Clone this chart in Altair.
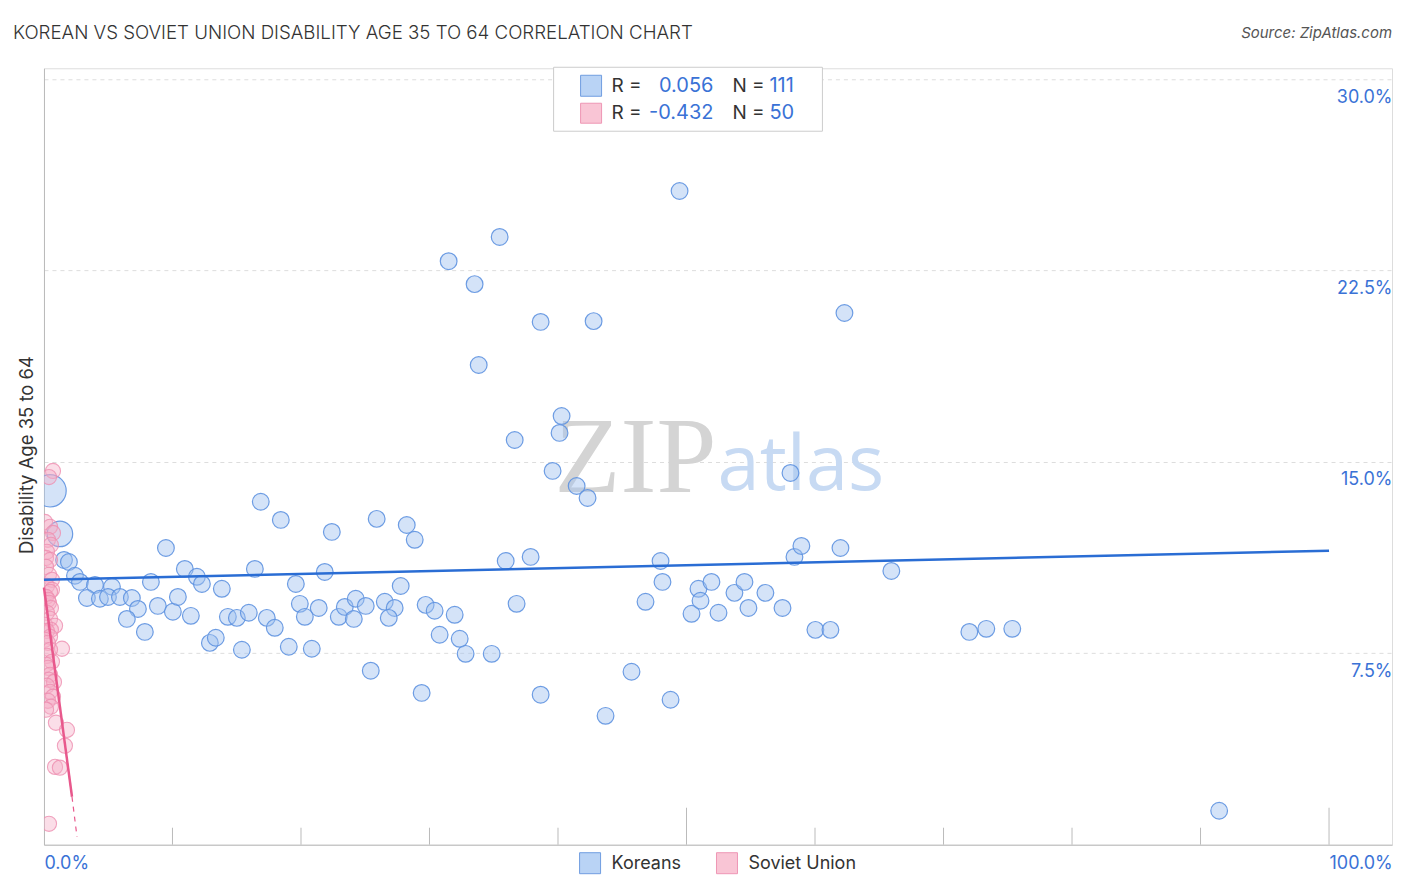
import altair as alt
import pandas as pd

# ---------------- data ----------------
korean_x = [49.46, 35.46, 31.49, 33.51, 38.65, 42.77, 62.29, 33.83, 40.28, 40.12,
            36.63, 39.58, 41.45, 42.30, 58.09, 0.47, 16.87, 18.43, 25.89, 28.23,
            22.40, 28.85, 1.24, 9.49, 1.56, 1.94, 2.41, 2.80, 3.97, 5.29,
            3.34, 4.35, 4.98, 5.91, 6.84, 7.31, 6.45, 7.85, 8.32, 8.86,
            10.03, 10.42, 10.96, 11.90, 12.29, 11.43, 13.84, 14.31, 15.01, 15.94,
            12.91, 13.37, 15.40, 17.34, 17.96, 16.41, 19.60, 19.91, 20.30, 21.38,
            22.94, 23.41, 24.11, 24.26, 25.04, 26.52, 27.29, 26.83, 27.76, 21.85,
            19.05, 20.84, 25.43, 29.39, 29.70, 30.40, 31.96, 30.79, 32.35, 32.81,
            34.84, 35.93, 37.87, 36.78, 38.65, 43.70, 45.72, 48.76, 46.81, 47.98,
            48.13, 50.39, 50.93, 51.09, 51.94, 52.49, 53.73, 54.51, 54.82, 56.14,
            57.47, 58.40, 58.94, 61.98, 60.03, 61.20, 65.94, 72.01, 73.33, 75.35,
            91.45]
korean_y = [25.62, 23.82, 22.87, 21.97, 20.49, 20.52, 20.84, 18.80, 16.80, 16.14,
            15.86, 14.65, 14.06, 13.59, 14.57, 13.87, 13.44, 12.73, 12.77, 12.53,
            12.26, 11.95, 12.18, 11.63, 11.16, 11.08, 10.54, 10.30, 10.18, 10.11,
            9.67, 9.64, 9.71, 9.71, 9.67, 9.24, 8.85, 8.34, 10.30, 9.36,
            9.13, 9.71, 10.81, 10.50, 10.22, 8.97, 10.03, 8.93, 8.89, 9.09,
            7.91, 8.11, 7.64, 8.89, 8.50, 10.81, 10.22, 9.44, 8.93, 9.28,
            8.93, 9.32, 8.85, 9.64, 9.36, 9.52, 9.28, 8.89, 10.14, 10.69,
            7.76, 7.68, 6.82, 5.95, 9.40, 9.17, 9.01, 8.23, 8.07, 7.48,
            7.48, 11.12, 11.28, 9.44, 5.88, 5.05, 6.78, 5.68, 9.52, 11.12,
            10.30, 9.05, 10.03, 9.56, 10.30, 9.09, 9.87, 10.30, 9.28, 9.87,
            9.28, 11.28, 11.71, 11.63, 8.42, 8.42, 10.73, 8.34, 8.46, 8.46,
            1.33]
# relative weight of each Korean point (1 = ordinary marker)
korean_weight = [1.0] * len(korean_x)
korean_weight[15] = 4.5
korean_weight[22] = 2.7

soviet_x = [0.70, 0.39, 0.08, 0.47, 0.70, 0.31, 0.54, 0.23, 0.16, 0.47,
            0.16, 0.39, 0.62, 0.23, 0.62, 0.47, 0.16, 0.31, 0.39, 0.54,
            0.23, 0.47, 0.08, 0.86, 0.54, 0.23, 0.47, 0.08, 0.31, 1.40,
            0.47, 0.23, 0.62, 0.16, 0.31, 0.47, 0.39, 0.78, 0.23, 0.47,
            0.70, 0.31, 0.54, 0.16, 0.93, 1.79, 1.63, 0.86, 1.24, 0.39]
soviet_y = [14.65, 14.41, 12.65, 12.46, 12.22, 11.95, 11.75, 11.48, 11.24, 11.16,
            10.89, 10.58, 10.38, 10.14, 9.99, 9.91, 9.71, 9.60, 9.48, 9.28,
            9.09, 8.85, 8.62, 8.58, 8.42, 8.38, 8.15, 8.03, 7.91, 7.68,
            7.64, 7.40, 7.17, 7.05, 6.93, 6.66, 6.46, 6.38, 6.23, 5.99,
            5.80, 5.64, 5.41, 5.29, 4.78, 4.50, 3.88, 3.05, 3.02, 0.82]

korean_trend_x = [0, 100]
korean_trend_y = [10.38, 11.52]
soviet_trend_x = [0, 2.18]
soviet_trend_y = [10.08, 1.88]
soviet_ext_x = [2.18, 2.57]
soviet_ext_y = [1.88, 0.31]

x_minor_ticks = [10, 20, 30, 40, 60, 70, 80, 90]
x_major_ticks = [50, 100]
x_label_values = [0, 100]
y_tick_values = [7.5, 15, 22.5, 30]

x_domain = [0, 104.9]
y_domain = [0, 30.43]

# ---------------- styling ----------------
W, H = 1349, 777
FONT = "Inter"
BLUE_TXT = "#3a72d6"
DARK = "#333333"
AXIS_GRAY = "#bbbbbb"

xs = alt.Scale(domain=x_domain, nice=False, zero=False)
ys = alt.Scale(domain=y_domain, nice=False, zero=False)

kor = pd.DataFrame({"x": korean_x, "y": korean_y, "w": korean_weight})
sov = pd.DataFrame({"x": soviet_x, "y": soviet_y})
one = pd.DataFrame({"a": [0]})

x_axis = alt.Axis(values=x_label_values, labelExpr="format(datum.value, '.1f') + '%'",
                  labelAlign="left", labelFlush=False, labelOverlap=False, ticks=False,
                  grid=False, domainColor=AXIS_GRAY, labelColor=BLUE_TXT,
                  labelFontSize=18, labelFont=FONT, labelPadding=10, title=None)
y_axis = alt.Axis(values=y_tick_values, orient="left", grid=True, gridDash=[4, 4],
                  gridColor="#dddddd", ticks=False, tickSize=0, labelAlign="right",
                  labelPadding=-W, labelBaseline="top", labelOffset=9,
                  labelExpr="format(datum.value, '.1f') + '%'", labelOverlap=False,
                  domainColor=AXIS_GRAY, labelColor=BLUE_TXT, labelFontSize=18,
                  labelFont=FONT, title=None)

korean_pts = alt.Chart(kor).mark_point(
    shape="circle", filled=True, fill="#9fc2f0", fillOpacity=0.45,
    stroke="#5e92e0", strokeWidth=1.2, strokeOpacity=0.9, clip=True
).encode(
    x=alt.X("x:Q", scale=xs, axis=x_axis),
    y=alt.Y("y:Q", scale=ys, axis=y_axis),
    size=alt.Size("w:Q", scale=alt.Scale(domain=[1, 4.5], range=[280, 1050]), legend=None),
)

soviet_pts = alt.Chart(sov).mark_point(
    shape="circle", filled=True, fill="#f5adc5", fillOpacity=0.4,
    stroke="#ee8fb0", strokeWidth=1.1, strokeOpacity=0.8, size=230, clip=True
).encode(x=alt.X("x:Q", scale=xs), y=alt.Y("y:Q", scale=ys))

kor_line = alt.Chart(pd.DataFrame({"x": korean_trend_x, "y": korean_trend_y})).mark_line(
    color="#2a6dd4", strokeWidth=2.5).encode(x=alt.X("x:Q", scale=xs), y=alt.Y("y:Q", scale=ys))
sov_line = alt.Chart(pd.DataFrame({"x": soviet_trend_x, "y": soviet_trend_y})).mark_line(
    color="#e8588c", strokeWidth=2.5).encode(x=alt.X("x:Q", scale=xs), y=alt.Y("y:Q", scale=ys))
sov_ext = alt.Chart(pd.DataFrame({"x": soviet_ext_x, "y": soviet_ext_y})).mark_line(
    color="#e8588c", strokeWidth=1.2, strokeDash=[5, 5]).encode(
    x=alt.X("x:Q", scale=xs), y=alt.Y("y:Q", scale=ys))

minor_ticks = alt.Chart(pd.DataFrame({"x": x_minor_ticks})).mark_rule(color=AXIS_GRAY).encode(
    x=alt.X("x:Q", scale=xs), y=alt.value(H), y2=alt.value(H - 17))
major_ticks = alt.Chart(pd.DataFrame({"x": x_major_ticks})).mark_rule(color=AXIS_GRAY).encode(
    x=alt.X("x:Q", scale=xs), y=alt.value(H), y2=alt.value(H - 37))


def txt(s, x, y, size=18, color=DARK, align="left", baseline="middle", font=FONT,
        weight="normal", style="normal", angle=0, opacity=1.0):
    return alt.Chart(one).mark_text(
        text=s, align=align, baseline=baseline, font=font, fontSize=size, color=color,
        fontWeight=weight, fontStyle=style, angle=angle, opacity=opacity
    ).encode(x=alt.value(x), y=alt.value(y))


def box(x1, x2, y1, y2, fill, stroke):
    return alt.Chart(one).mark_rect(fill=fill, stroke=stroke, strokeWidth=1).encode(
        x=alt.value(x1), x2=alt.value(x2), y=alt.value(y1), y2=alt.value(y2))


watermark = [
    txt("ZIP", 511, 424, size=108, color="#d4d4d4", baseline="alphabetic",
        font="Liberation Serif"),
    txt("atlas", 674, 422, size=76, color="#c7daf3", baseline="alphabetic",
        font="Open Sans"),
]

title = [
    txt("KOREAN VS SOVIET UNION DISABILITY AGE 35 TO 64 CORRELATION CHART", -31, -35,
        size=18.7, color=DARK, weight=300),
    txt("Source: ZipAtlas.com", W, -35, size=15, color="#555555", align="right",
        style="italic"),
    txt("Disability Age 35 to 64", -17, 387, size=18.5, color=DARK, align="center",
        angle=270),
]

top_legend = [
    box(510, 779, -1, 63, "white", "#cccccc"),
    box(537, 558, 7, 28, "#b9d3f5", "#6f9de0"),
    box(537, 558, 35, 55, "#f9c5d5", "#ee97b5"),
    txt("R =", 568, 18, size=19),
    txt("R =", 568, 45, size=19),
    txt("0.056", 670, 18, size=20, color=BLUE_TXT, align="right"),
    txt("-0.432", 670, 45, size=20, color=BLUE_TXT, align="right"),
    txt("N =", 689, 18, size=19),
    txt("N =", 689, 45, size=19),
    txt("111", 726, 18, size=20, color=BLUE_TXT),
    txt("50", 726, 45, size=20, color=BLUE_TXT),
]

bottom_legend = [
    box(536, 557, 785, 806, "#b9d3f5", "#6f9de0"),
    txt("Koreans", 568, 796, size=18),
    box(673, 694, 785, 806, "#f9c5d5", "#ee97b5"),
    txt("Soviet Union", 705, 796, size=18),
]

chart = alt.layer(
    *watermark, minor_ticks, major_ticks, korean_pts, soviet_pts, kor_line, sov_line, sov_ext,
    *top_legend, *bottom_legend, *title
).properties(
    width=W, height=H,
    autosize=alt.AutoSizeParams(type="none"),
    padding={"left": 36, "top": 60, "right": 6, "bottom": 40},
).configure_view(stroke=None).configure(background="white")

chart.save("out.html", embed_options={"renderer": "svg", "actions": False})
